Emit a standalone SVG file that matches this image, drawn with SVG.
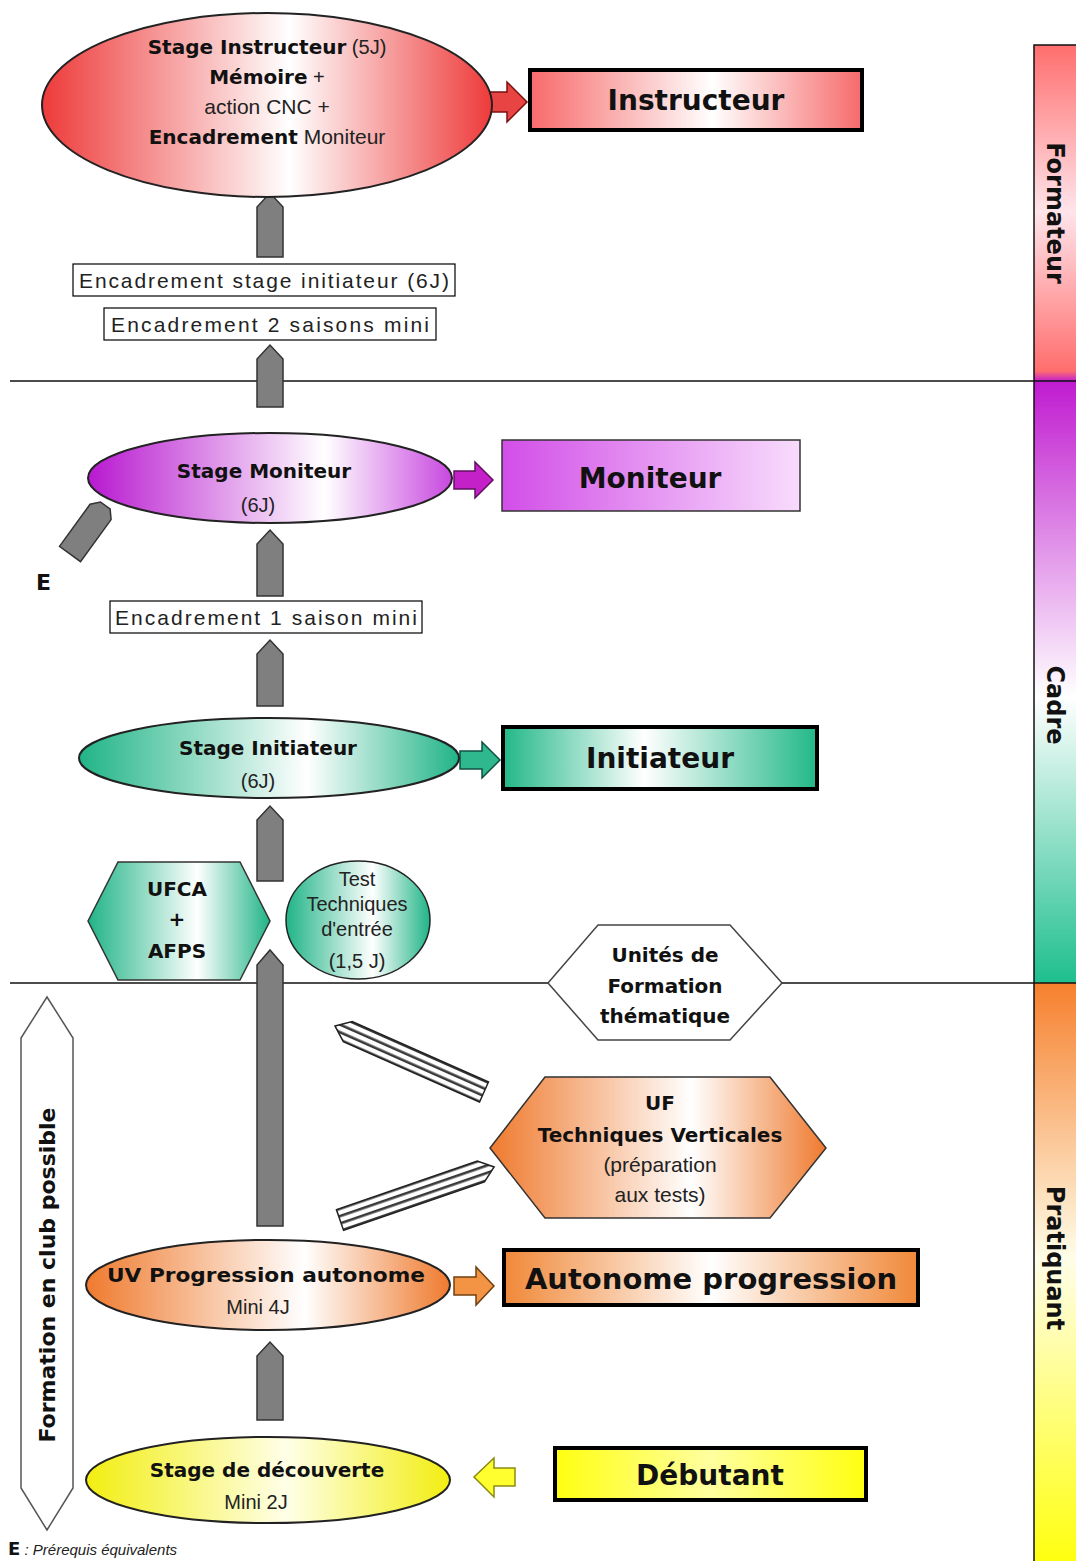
<svg xmlns="http://www.w3.org/2000/svg" width="1076" height="1561" viewBox="0 0 1076 1561">
<defs>
<linearGradient id="gRed" x1="0" y1="0" x2="1" y2="0"><stop offset="0" stop-color="#ee3a3a"/><stop offset="0.55" stop-color="#ffffff"/><stop offset="1" stop-color="#ee3a3a"/></linearGradient>
<linearGradient id="gRedBox" x1="0" y1="0" x2="1" y2="0"><stop offset="0" stop-color="#f76a6a"/><stop offset="0.55" stop-color="#ffffff"/><stop offset="1" stop-color="#f76a6a"/></linearGradient>
<linearGradient id="gPur" x1="0" y1="0" x2="1" y2="0"><stop offset="0" stop-color="#b818d0"/><stop offset="0.65" stop-color="#ffffff"/><stop offset="1" stop-color="#c848e0"/></linearGradient>
<linearGradient id="gPurBox" x1="0" y1="0" x2="1" y2="0"><stop offset="0" stop-color="#d24ee8"/><stop offset="1" stop-color="#f8dcfc"/></linearGradient>
<linearGradient id="gGrn" x1="0" y1="0" x2="1" y2="0"><stop offset="0" stop-color="#20b486"/><stop offset="0.6" stop-color="#ffffff"/><stop offset="1" stop-color="#20b486"/></linearGradient>
<linearGradient id="gGrnBox" x1="0" y1="0" x2="1" y2="0"><stop offset="0" stop-color="#22b888"/><stop offset="0.45" stop-color="#ffffff"/><stop offset="1" stop-color="#22b888"/></linearGradient>
<linearGradient id="gOrg" x1="0" y1="0" x2="1" y2="0"><stop offset="0" stop-color="#ef7a2e"/><stop offset="0.6" stop-color="#ffffff"/><stop offset="1" stop-color="#ef7a2e"/></linearGradient>
<linearGradient id="gOrgBox" x1="0" y1="0" x2="1" y2="0"><stop offset="0" stop-color="#f08838"/><stop offset="0.5" stop-color="#ffffff"/><stop offset="1" stop-color="#f08838"/></linearGradient>
<linearGradient id="gYel" x1="0" y1="0" x2="1" y2="0"><stop offset="0" stop-color="#f2ee10"/><stop offset="0.55" stop-color="#ffffe8"/><stop offset="1" stop-color="#f2ee10"/></linearGradient>
<linearGradient id="gYelBox" x1="0" y1="0" x2="1" y2="0"><stop offset="0" stop-color="#ffff10"/><stop offset="0.5" stop-color="#ffffa0"/><stop offset="1" stop-color="#ffff10"/></linearGradient>
<linearGradient id="gBar" gradientUnits="userSpaceOnUse" x1="0" y1="45" x2="0" y2="1561">
<stop offset="0" stop-color="#ff6e6e"/>
<stop offset="0.11" stop-color="#ffe4ea"/>
<stop offset="0.215" stop-color="#ff6e6e"/>
<stop offset="0.222" stop-color="#c01cd0"/>
<stop offset="0.43" stop-color="#ffffff"/>
<stop offset="0.618" stop-color="#1fbf8e"/>
<stop offset="0.619" stop-color="#f6802e"/>
<stop offset="0.80" stop-color="#fffde8"/>
<stop offset="1" stop-color="#ffff10"/>
</linearGradient>
<pattern id="hatch" patternUnits="userSpaceOnUse" width="10" height="7"><rect width="10" height="7" fill="#ffffff"/><rect y="2" width="10" height="2.6" fill="#3a3a3a"/></pattern>
</defs>
<style>
.b{font-family:"DejaVu Sans","Liberation Sans",sans-serif;font-weight:bold;fill:#111}
.r{font-family:"Liberation Sans",Arial,sans-serif;fill:#222}
.ell{stroke:#222;stroke-width:2}
.box{stroke:#000;stroke-width:4}
.tbox{fill:#fff;stroke:#000;stroke-width:1.2}
.up{fill:#7f7f7f;stroke:#333;stroke-width:1.5}
.hat{fill:url(#hatch);stroke:#222;stroke-width:1.5}
.sep{stroke:#111;stroke-width:1.5}
</style>
<rect width="1076" height="1561" fill="#ffffff"/>

<g id="separators">
<line class="sep" x1="10" y1="381" x2="1034" y2="381"/>
<line class="sep" x1="10" y1="983" x2="1034" y2="983"/>
</g>

<g id="level-bar">
<rect x="1034" y="45" width="44" height="1520" fill="url(#gBar)" stroke="#111" stroke-width="1.5"/>
<line x1="1034" y1="381" x2="1076" y2="381" stroke="#111" stroke-width="1.5"/>
<line x1="1034" y1="983" x2="1076" y2="983" stroke="#111" stroke-width="1.5"/>
<text class="b" font-size="24" text-anchor="middle" dominant-baseline="central" transform="translate(1055,213) rotate(90)">Formateur</text>
<text class="b" font-size="24" text-anchor="middle" dominant-baseline="central" transform="translate(1055,705) rotate(90)">Cadre</text>
<text class="b" font-size="24" text-anchor="middle" dominant-baseline="central" transform="translate(1055,1258) rotate(90)">Pratiquant</text>
</g>

<g id="connectors">
<polygon class="up" points="257,257 257,207 270,193 283,207 283,257"/>
<polygon class="up" points="257,407 257,359 270,345 283,359 283,407"/>
<polygon class="up" points="257,596 257,544 270,530 283,544 283,596"/>
<polygon class="up" points="257,706 257,654 270,640 283,654 283,706"/>
<polygon class="up" points="257,881 257,820 270,806 283,820 283,881"/>
<polygon class="up" points="257,1226 257,965 270,950 283,965 283,1226"/>
<polygon class="up" points="257,1420 257,1356 270,1342 283,1356 283,1420"/>
<polygon class="up" transform="translate(70,554) rotate(36)" points="-13,0 -13,-52 -6,-60 6,-60 13,-52 13,0"/>
<polygon class="hat" transform="translate(484,1092) rotate(203.9)" points="0,-11 149,-11 163,0 149,11 0,11"/>
<polygon class="hat" transform="translate(340,1220) rotate(-19)" points="0,-11 149,-11 163,0 149,11 0,11"/>
<polygon fill="#e84444" stroke="#7a1010" stroke-width="1.5" points="487,92 507,92 507,82 527,102 507,122 507,112 487,112"/>
<polygon fill="#c421c8" stroke="#601060" stroke-width="1.5" points="454,471 475,471 475,462 493,480 475,498 475,489 454,489"/>
<polygon fill="#2fb88e" stroke="#105040" stroke-width="1.5" points="460,751 482,751 482,742 500,760 482,778 482,769 460,769"/>
<polygon fill="#f29444" stroke="#704010" stroke-width="1.5" points="454,1277 476,1277 476,1267 494,1286 476,1305 476,1295 454,1295"/>
<polygon fill="#ffff30" stroke="#8a8a10" stroke-width="1.5" points="515,1468 494,1468 494,1458 474,1477 494,1497 494,1486 515,1486"/>
</g>

<g id="stage-instructeur">
<ellipse class="ell" cx="267" cy="105" rx="225" ry="92" fill="url(#gRed)"/>
<text x="267" y="54" text-anchor="middle" font-size="20"><tspan class="b">Stage Instructeur</tspan><tspan class="r"> (5J)</tspan></text>
<text x="267" y="84" text-anchor="middle" font-size="20"><tspan class="b">Mémoire</tspan><tspan class="r"> +</tspan></text>
<text class="r" x="267" y="114" text-anchor="middle" font-size="21">action CNC +</text>
<text x="267" y="144" text-anchor="middle" font-size="20"><tspan class="b">Encadrement</tspan><tspan class="r" font-size="21"> Moniteur</tspan></text>
</g>

<g id="instructeur">
<rect class="box" x="530" y="70" width="332" height="60" fill="url(#gRedBox)"/>
<text class="b" x="696" y="110" text-anchor="middle" font-size="28">Instructeur</text>
</g>

<g id="encadrement-stage-initiateur">
<rect class="tbox" x="73" y="264" width="382" height="32"/>
<text class="r" x="264" y="288" text-anchor="middle" font-size="21" textLength="370" lengthAdjust="spacing">Encadrement stage initiateur (6J)</text>
</g>

<g id="encadrement-2-saisons">
<rect class="tbox" x="104" y="308" width="332" height="32"/>
<text class="r" x="270" y="332" text-anchor="middle" font-size="21" textLength="318" lengthAdjust="spacing">Encadrement 2 saisons mini</text>
</g>

<g id="stage-moniteur">
<ellipse class="ell" cx="270" cy="478" rx="182" ry="45" fill="url(#gPur)"/>
<text class="b" x="264" y="478" text-anchor="middle" font-size="20">Stage Moniteur</text>
<text class="r" x="258" y="512" text-anchor="middle" font-size="20">(6J)</text>
</g>

<g id="moniteur">
<rect x="502" y="440" width="298" height="71" fill="url(#gPurBox)" stroke="#333" stroke-width="1.5"/>
<text class="b" x="650" y="488" text-anchor="middle" font-size="28">Moniteur</text>
</g>

<g id="equivalent">
<text class="b" x="36" y="590" font-size="22">E</text>
</g>

<g id="encadrement-1-saison">
<rect class="tbox" x="110" y="601" width="312" height="32"/>
<text class="r" x="266" y="625" text-anchor="middle" font-size="21" textLength="302" lengthAdjust="spacing">Encadrement 1 saison mini</text>
</g>

<g id="stage-initiateur">
<ellipse class="ell" cx="269" cy="758" rx="190" ry="40" fill="url(#gGrn)"/>
<text class="b" x="268" y="755" text-anchor="middle" font-size="20">Stage Initiateur</text>
<text class="r" x="258" y="788" text-anchor="middle" font-size="20">(6J)</text>
</g>

<g id="initiateur">
<rect class="box" x="503" y="727" width="314" height="62" fill="url(#gGrnBox)"/>
<text class="b" x="660" y="768" text-anchor="middle" font-size="28">Initiateur</text>
</g>

<g id="ufca-afps">
<polygon points="88,921 118,862 240,862 270,921 240,980 118,980" fill="url(#gGrn)" stroke="#333" stroke-width="1.5"/>
<text class="b" x="177" y="896" text-anchor="middle" font-size="20">UFCA</text>
<text class="b" x="177" y="926" text-anchor="middle" font-size="20">+</text>
<text class="b" x="177" y="958" text-anchor="middle" font-size="20">AFPS</text>
</g>

<g id="test-techniques">
<ellipse cx="358" cy="920" rx="72" ry="59" fill="url(#gGrn)" stroke="#222" stroke-width="1.5"/>
<text class="r" x="357" y="886" text-anchor="middle" font-size="20">Test</text>
<text class="r" x="357" y="911" text-anchor="middle" font-size="20">Techniques</text>
<text class="r" x="357" y="936" text-anchor="middle" font-size="20">d'entrée</text>
<text class="r" x="357" y="968" text-anchor="middle" font-size="20">(1,5 J)</text>
</g>

<g id="unites-formation">
<polygon points="548,983 598,925 730,925 782,983 730,1040 598,1040" fill="#ffffff" stroke="#444" stroke-width="1.5"/>
<text class="b" x="665" y="962" text-anchor="middle" font-size="20">Unités de</text>
<text class="b" x="665" y="993" text-anchor="middle" font-size="20">Formation</text>
<text class="b" x="665" y="1023" text-anchor="middle" font-size="20">thématique</text>
</g>

<g id="uf-techniques-verticales">
<polygon points="490,1148 545,1077 770,1077 826,1148 770,1218 545,1218" fill="url(#gOrg)" stroke="#333" stroke-width="1.5"/>
<text class="b" x="660" y="1110" text-anchor="middle" font-size="20">UF</text>
<text class="b" x="660" y="1142" text-anchor="middle" font-size="20">Techniques Verticales</text>
<text class="r" x="660" y="1172" text-anchor="middle" font-size="21">(préparation</text>
<text class="r" x="660" y="1202" text-anchor="middle" font-size="21">aux tests)</text>
</g>

<g id="uv-progression">
<ellipse class="ell" cx="268" cy="1285" rx="182" ry="45" fill="url(#gOrg)"/>
<text class="b" x="266" y="1282" text-anchor="middle" font-size="20" textLength="318" lengthAdjust="spacingAndGlyphs">UV Progression autonome</text>
<text class="r" x="258" y="1314" text-anchor="middle" font-size="20">Mini 4J</text>
</g>

<g id="autonome-progression">
<rect class="box" x="504" y="1250" width="414" height="55" fill="url(#gOrgBox)"/>
<text class="b" x="711" y="1289" text-anchor="middle" font-size="29">Autonome progression</text>
</g>

<g id="stage-decouverte">
<ellipse class="ell" cx="268" cy="1480" rx="182" ry="43" fill="url(#gYel)"/>
<text class="b" x="267" y="1477" text-anchor="middle" font-size="20">Stage de découverte</text>
<text class="r" x="256" y="1509" text-anchor="middle" font-size="20">Mini 2J</text>
</g>

<g id="debutant">
<rect class="box" x="555" y="1448" width="311" height="52" fill="url(#gYelBox)"/>
<text class="b" x="710" y="1485" text-anchor="middle" font-size="28">Débutant</text>
</g>

<g id="formation-club">
<polygon points="47,997 73,1038 73,1488 47,1530 21,1488 21,1038" fill="#ffffff" stroke="#555" stroke-width="1.5"/>
<text class="b" font-size="22" text-anchor="middle" dominant-baseline="central" transform="translate(47,1275) rotate(-90)">Formation en club possible</text>
</g>

<g id="legend">
<text x="8" y="1555" font-size="18"><tspan class="b">E</tspan><tspan class="r" font-size="15" font-style="italic"> : Prérequis équivalents</tspan></text>
</g>
</svg>
